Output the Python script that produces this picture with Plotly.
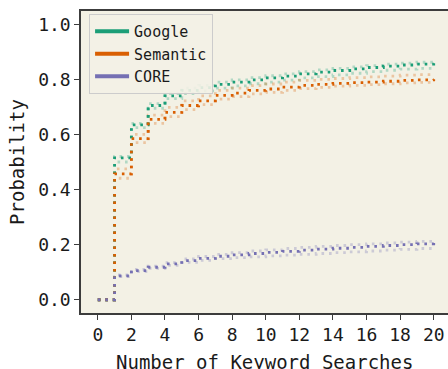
import plotly.graph_objects as go

searches = list(range(21))

google = [0, 0.515, 0.635, 0.705, 0.74, 0.76, 0.77, 0.782, 0.79, 0.798, 0.805,
          0.812, 0.82, 0.826, 0.832, 0.838, 0.843, 0.848, 0.852, 0.855, 0.858]
google_hi = [0, 0.52, 0.64, 0.712, 0.748, 0.768, 0.778, 0.79, 0.798, 0.806, 0.813,
             0.82, 0.828, 0.834, 0.84, 0.845, 0.85, 0.855, 0.859, 0.862, 0.865]
google_lo = [0, 0.50, 0.625, 0.695, 0.73, 0.748, 0.758, 0.768, 0.776, 0.784, 0.79,
             0.797, 0.805, 0.81, 0.816, 0.822, 0.828, 0.833, 0.837, 0.84, 0.843]

semantic = [0, 0.457, 0.585, 0.655, 0.68, 0.705, 0.722, 0.742, 0.75, 0.76, 0.765,
            0.772, 0.778, 0.782, 0.785, 0.788, 0.79, 0.793, 0.796, 0.798, 0.80]
semantic_hi = [0, 0.475, 0.60, 0.67, 0.698, 0.722, 0.74, 0.76, 0.768, 0.777, 0.783,
               0.79, 0.796, 0.80, 0.803, 0.806, 0.809, 0.812, 0.815, 0.817, 0.819]
semantic_lo = [0, 0.441, 0.57, 0.64, 0.665, 0.69, 0.708, 0.728, 0.737, 0.747, 0.753,
               0.76, 0.766, 0.771, 0.775, 0.778, 0.781, 0.784, 0.787, 0.789, 0.791]

core = [0, 0.087, 0.106, 0.118, 0.13, 0.142, 0.15, 0.158, 0.163, 0.168, 0.172,
        0.176, 0.18, 0.184, 0.187, 0.19, 0.194, 0.197, 0.20, 0.203, 0.206]
core_hi = [0, 0.09, 0.11, 0.122, 0.135, 0.148, 0.157, 0.165, 0.171, 0.177, 0.181,
           0.186, 0.19, 0.194, 0.197, 0.20, 0.203, 0.206, 0.209, 0.212, 0.215]
core_lo = [0, 0.084, 0.102, 0.114, 0.125, 0.136, 0.143, 0.149, 0.153, 0.156, 0.159,
           0.162, 0.165, 0.168, 0.171, 0.174, 0.177, 0.18, 0.183, 0.186, 0.189]

series = [
    ("Google", google, google_hi, google_lo, "#1b9e77", "rgba(27,158,119,0.3)"),
    ("Semantic", semantic, semantic_hi, semantic_lo, "#d95f02", "rgba(217,95,2,0.3)"),
    ("CORE", core, core_hi, core_lo, "#7570b3", "rgba(117,112,179,0.3)"),
]

x_ticks = list(range(0, 21, 2))
y_ticks = [0.0, 0.2, 0.4, 0.6, 0.8, 1.0]
x_title = "Number of Keyword Searches"
y_title = "Probability"

FONT = "DejaVu Sans Mono"
DASH = "2.6px,4.9px"

fig = go.Figure()

for name, main, hi, lo, col, light in series:
    for band in (hi, lo):
        fig.add_trace(go.Scatter(x=searches, y=band, mode="lines", line_shape="hv",
                                 line=dict(color=light, width=2.8, dash=DASH),
                                 showlegend=False, hoverinfo="skip"))

for name, main, hi, lo, col, light in series:
    fig.add_trace(go.Scatter(x=searches, y=main, mode="lines", line_shape="hv",
                             line=dict(color=col, width=2.8, dash=DASH),
                             showlegend=False, name=name))

for name, main, hi, lo, col, light in series:
    fig.add_trace(go.Scatter(x=[None], y=[None], mode="lines", name=name,
                             line=dict(color=col, width=4)))

fig.update_layout(
    width=448, height=369,
    margin=dict(l=81, r=0, t=11, b=56),
    paper_bgcolor="white",
    plot_bgcolor="#f3f1e5",
    font=dict(family=FONT, size=18, color="#1a1a1a"),
    showlegend=True,
    legend=dict(x=0.022, y=0.99, xanchor="left", yanchor="top",
                bgcolor="rgba(243,241,229,0.9)", bordercolor="#cccccc", borderwidth=1,
                font=dict(family=FONT, size=15), tracegroupgap=0,
                itemwidth=34),
    annotations=[dict(text=x_title, xref="paper", yref="paper", x=0.5, y=0,
                      xanchor="center", yanchor="top", yshift=-36, showarrow=False,
                      font=dict(family=FONT, size=19, color="#1a1a1a"))],
)
fig.update_xaxes(
    automargin=False,
    range=[-1, 20.85], tickmode="array", tickvals=x_ticks,
    ticktext=[str(v) for v in x_ticks],
    showgrid=False, zeroline=False,
    showline=True, linecolor="#3c3c3c", linewidth=1.5, mirror=True,
    ticks="outside", ticklen=5, tickwidth=1.2, tickcolor="#3c3c3c",
)
fig.update_yaxes(
    automargin=False,
    range=[-0.048, 1.048], tickmode="array", tickvals=y_ticks,
    ticktext=[f"{v:.1f}" for v in y_ticks],
    showgrid=False, zeroline=False,
    showline=True, linecolor="#3c3c3c", linewidth=1.5, mirror=False,
    ticks="outside", ticklen=5, tickwidth=1.2, tickcolor="#3c3c3c",
    title=dict(text=y_title, standoff=8, font=dict(size=19)),
)

fig.write_html(
    "out.html",
    config={"displayModeBar": False},
    post_script="document.body.style.margin='0';"
                "document.body.style.overflow='hidden';"
                "document.documentElement.style.overflow='hidden';",
)
